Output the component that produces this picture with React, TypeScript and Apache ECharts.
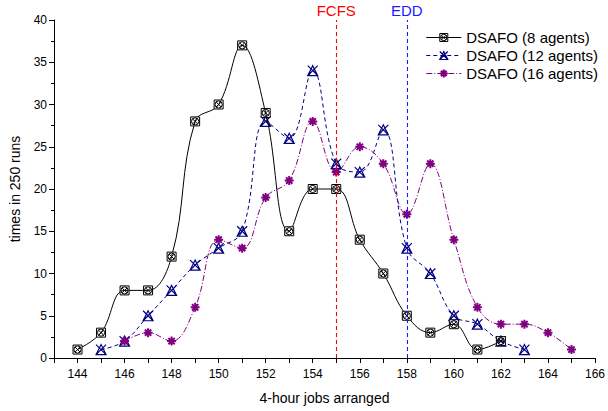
import React, { useEffect, useRef } from "react";
import * as echarts from "echarts";

const x8 = [144, 145, 146, 147, 148, 149, 150, 151, 152, 153, 154, 155, 156, 157, 158, 159, 160, 161, 162];
const y8 = [1, 3, 8, 8, 12, 28, 30, 37, 29, 15, 20, 20, 14, 10, 5, 3, 4, 1, 2];
const x12 = [145, 146, 147, 148, 149, 150, 151, 152, 153, 154, 155, 156, 157, 158, 159, 160, 161, 162, 163];
const y12 = [1, 2, 5, 8, 11, 13, 15, 28, 26, 34, 23, 22, 27, 13, 10, 5, 4, 2, 1];
const x16 = [146, 147, 148, 149, 150, 151, 152, 153, 154, 155, 156, 157, 158, 159, 160, 161, 162, 163, 164, 165];
const y16 = [2, 3, 2, 6, 14, 13, 19, 21, 28, 22, 25, 23, 17, 23, 14, 6, 4, 4, 3, 1];
const seriesNames = ["DSAFO (8 agents)", "DSAFO (12 agents)", "DSAFO (16 agents)"];
const refLines = [
  { name: "FCFS", x: 155, color: "#ff0000" },
  { name: "EDD", x: 158, color: "#1a1aff" },
];

const FONT = "Liberation Sans, Arial, sans-serif";

const sym8 =
  "path://M0,0 L10,0 L10,10 L0,10 Z M9,5 A4,4 0 1,0 1,5 A4,4 0 1,0 9,5 Z M2.2,2.2 L7.8,7.8 M7.8,2.2 L2.2,7.8";
const sym12 = "path://M5,0 L10,10 L0,10 Z M0,0 L10,10 M10,0 L0,10";
const sym16 = "path://M5,0 L5,10 M0,5 L10,5 M1.5,1.5 L8.5,8.5 M8.5,1.5 L1.5,8.5";

const styles = [
  {
    symbol: sym8,
    size: 9,
    item: { color: "#ffffff", borderColor: "#000000", borderWidth: 1 },
    line: { color: "#000000", width: 1, type: "solid" as any },
  },
  {
    symbol: sym12,
    size: 10,
    item: { color: "rgba(255,255,255,0)", borderColor: "#000080", borderWidth: 1.2 },
    line: { color: "#000080", width: 1, type: [4, 3] as any },
  },
  {
    symbol: sym16,
    size: 9,
    item: { color: "#800080", borderColor: "#800080", borderWidth: 2 },
    line: { color: "#800080", width: 1, type: [6, 2, 1, 2] as any },
  },
];

function zip(xs: number[], ys: number[]) {
  return xs.map((x, i) => [x, ys[i]]);
}

export default function App() {
  const ref = useRef<HTMLDivElement>(null);
  useEffect(() => {
    if (!ref.current) return;
    const chart = echarts.init(ref.current, undefined, { renderer: "svg" });
    const datasets = [zip(x8, y8), zip(x12, y12), zip(x16, y16)];
    const series: any[] = datasets.map((d, i) => ({
      name: seriesNames[i],
      type: "line",
      smooth: 0.4,
      data: d,
      symbol: styles[i].symbol,
      symbolSize: styles[i].size,
      itemStyle: styles[i].item,
      lineStyle: styles[i].line,
      z: i === 0 ? 3 : 2,
    }));
    refLines.forEach((r) => {
      series.push({
        name: r.name,
        type: "line",
        color: r.color,
        itemStyle: { color: r.color },
        lineStyle: { color: r.color },
        data: [],
        markLine: {
          silent: true,
          symbol: "none",
          lineStyle: { color: r.color, type: [4, 3], width: 1.1, opacity: 1 },
          label: {
            show: true,
            position: "end",
            formatter: r.name,
            color: r.color,
            fontSize: 15,
            fontFamily: FONT,
            distance: 2,
          },
          data: [
            {
              xAxis: r.x,
              lineStyle: { color: r.color, type: [4, 3], width: 1.1 },
              label: { color: r.color },
            },
          ],
        },
      });
    });
    chart.setOption({
      animation: false,
      backgroundColor: "#ffffff",
      textStyle: { fontFamily: FONT },
      grid: { left: 54, right: 9, top: 20, bottom: 53 },
      legend: {
        orient: "vertical",
        right: 10,
        top: 30,
        padding: 0,
        itemWidth: 35,
        itemHeight: 10,
        itemGap: 3,
        textStyle: { fontFamily: FONT, fontSize: 15, color: "#000" },
        data: seriesNames.map((n, i) => ({
          name: n,
          itemStyle: styles[i].item,
          lineStyle: styles[i].line,
        })),
      },
      xAxis: {
        type: "value",
        min: 143,
        max: 166,
        interval: 1,
        name: "4-hour jobs arranged",
        nameLocation: "middle",
        nameGap: 33,
        nameTextStyle: { fontFamily: FONT, fontSize: 14, color: "#000" },
        axisLine: { onZero: false, lineStyle: { color: "#000", width: 1 } },
        axisTick: { show: true, length: 5, lineStyle: { color: "#000" } },
        axisLabel: {
          fontFamily: FONT,
          fontSize: 12,
          color: "#000",
          margin: 10,
          formatter: (v: number) => (v % 2 === 0 ? String(v) : ""),
        },
        splitLine: { show: false },
      },
      yAxis: {
        type: "value",
        min: 0,
        max: 40,
        interval: 5,
        name: "times in 250 runs",
        nameLocation: "middle",
        nameGap: 32,
        nameTextStyle: { fontFamily: FONT, fontSize: 14, color: "#000" },
        axisLine: { show: true, lineStyle: { color: "#000", width: 1 } },
        axisTick: { show: true, length: 5, lineStyle: { color: "#000" } },
        minorTick: { show: true, splitNumber: 2, length: 3, lineStyle: { color: "#000" } },
        axisLabel: { fontFamily: FONT, fontSize: 12, color: "#000", margin: 7 },
        splitLine: { show: false },
      },
      series,
    });
    return () => chart.dispose();
  }, []);
  return (
    <div
      ref={ref}
      style={{ position: "absolute", left: 0, top: 0, width: 608, height: 411 }}
    />
  );
}
